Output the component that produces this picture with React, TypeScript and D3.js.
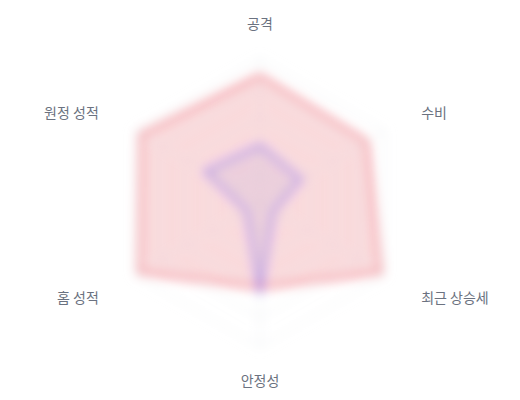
import React from "react";
import * as d3 from "d3";

const axes = ["공격", "수비", "최근 상승세", "안정성", "홈 성적", "원정 성적"];
const teamA = [89, 86, 97, 59, 97, 96];
const teamB = [40, 33, 11, 63, 11, 44];
const ringLevels = [20, 40, 60, 80, 100];

const W = 520;
const H = 400;
const cx = 260;
const cy = 203;
const R = 144;
const labelR = 170;

export default function App() {
  const r = d3.scaleLinear().domain([0, 100]).range([0, R]);
  const angle = (i: number) => (i * 2 * Math.PI) / axes.length;
  const pt = (i: number, v: number): [number, number] => [
    cx + r(v) * Math.sin(angle(i)),
    cy - r(v) * Math.cos(angle(i)),
  ];
  const line = d3.line<[number, number]>().curve(d3.curveLinearClosed);
  const poly = (vals: number[]) => line(vals.map((v, i) => pt(i, v))) || "";

  const labelProps = (i: number) => {
    const a = angle(i);
    const s = Math.sin(a);
    const c = Math.cos(a);
    let x = cx + labelR * s;
    let y = cy - labelR * c;
    let anchor: "start" | "middle" | "end" = "middle";
    if (s > 0.1) {
      anchor = "start";
      x += 14;
    } else if (s < -0.1) {
      anchor = "end";
      x -= 14;
    }
    let dy = "0";
    if (c < -0.9) dy = "0.95em";
    else if (c < 0) dy = "1.05em";
    else if (c > 0.9) dy = "-0.3em";
    else dy = "0";
    return { x, y, anchor, dy };
  };

  return (
    <svg
      width={W}
      height={H}
      style={{ position: "fixed", left: 0, top: 0, background: "#fff" }}
    >
      <defs>
        <filter id="blur" x="-20%" y="-20%" width="140%" height="140%">
          <feGaussianBlur stdDeviation="5.5" />
        </filter>
      </defs>
      <g filter="url(#blur)">
        {ringLevels.map((lv) => (
          <path
            key={lv}
            d={poly(axes.map(() => lv))}
            fill="none"
            stroke="#e5e7eb"
            strokeWidth={1}
          />
        ))}
        {axes.map((_, i) => {
          const [x, y] = pt(i, 100);
          return (
            <line key={i} x1={cx} y1={cy} x2={x} y2={y} stroke="#e5e7eb" strokeWidth={1} />
          );
        })}
        <path
          d={poly(teamA)}
          fill="rgba(232,80,96,0.22)"
          stroke="rgba(236,90,105,0.6)"
          strokeWidth={4}
          strokeLinejoin="round"
        />
        <path
          d={poly(teamB)}
          fill="rgba(120,110,230,0.1)"
          stroke="rgba(130,110,235,0.55)"
          strokeWidth={4}
          strokeLinejoin="round"
        />
      </g>
      {axes.map((name, i) => {
        const p = labelProps(i);
        return (
          <text
            key={name}
            x={p.x}
            y={p.y}
            dy={p.dy}
            textAnchor={p.anchor}
            fontFamily="'Noto Sans CJK KR', 'Noto Sans', sans-serif"
            fontSize={14}
            fill="#6b7280"
          >
            {name}
          </text>
        );
      })}
    </svg>
  );
}
